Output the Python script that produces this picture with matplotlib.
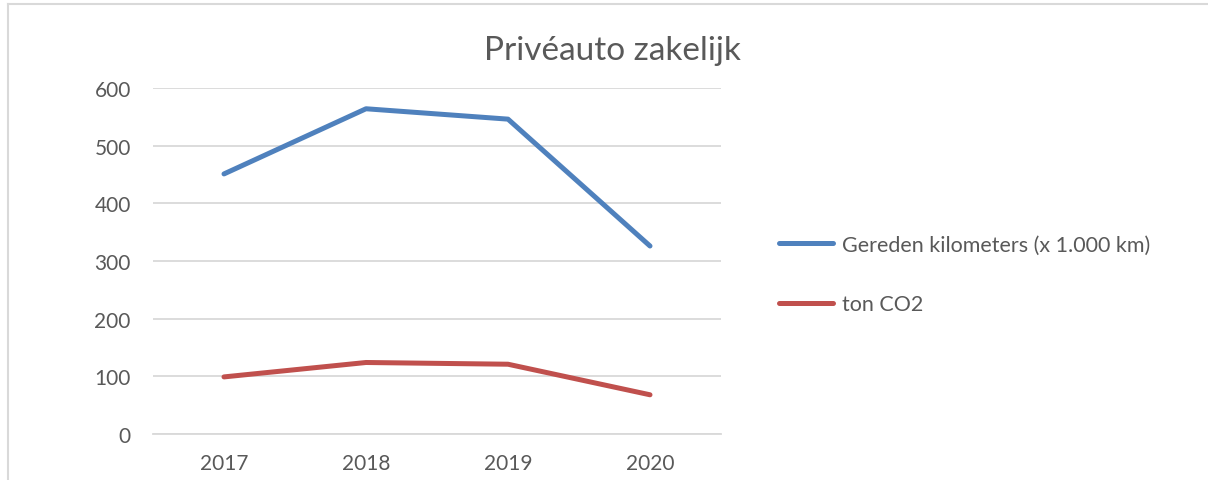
import matplotlib
matplotlib.use("Agg")
import matplotlib.pyplot as plt
from matplotlib.lines import Line2D

# data
years = ["2017", "2018", "2019", "2020"]
km_values = [451, 564, 546, 326]
co2_values = [99, 124, 121, 68]
series_labels = ["Gereden kilometers (x 1.000 km)", "ton CO2"]
y_ticks = [0, 100, 200, 300, 400, 500, 600]
title = "Privéauto zakelijk"

W, H = 1208, 481
text_color = "#595959"
grid_color = "#d9d9d9"

plt.rcParams["font.family"] = ["Lato", "DejaVu Sans"]

fig = plt.figure(figsize=(W / 100, H / 100), dpi=100)
ax = fig.add_axes([153 / W, 1 - 435 / H, (721 - 153) / W, (435 - 89) / H])

x = list(range(len(years)))
ax.plot(x, km_values, color="#4f81bd", lw=3.6, solid_capstyle="round",
        solid_joinstyle="round", label=series_labels[0])
ax.plot(x, co2_values, color="#c0504d", lw=3.6, solid_capstyle="round",
        solid_joinstyle="round", label=series_labels[1])

ax.set_xlim(-0.5, len(years) - 0.5)
ax.set_ylim(0, 600)
ax.set_yticks(y_ticks)
ax.set_xticks(x)
ax.set_xticklabels(years)
ax.yaxis.grid(True, color=grid_color, lw=1.3)
ax.set_axisbelow(True)
for side in ["left", "right", "top"]:
    ax.spines[side].set_visible(False)
ax.spines["bottom"].set_color(grid_color)
ax.spines["bottom"].set_linewidth(1.3)
ax.tick_params(axis="both", length=0, labelsize=15, colors=text_color)
ax.tick_params(axis="y", pad=16)
ax.tick_params(axis="x", pad=14)

fig.text(612 / W, 1 - 51 / H, title, ha="center", va="center",
         fontsize=24, color=text_color)

leg = fig.legend(loc="upper left", bbox_to_anchor=(760 / W, 1 - 216 / H),
                 frameon=False, fontsize=15.5, labelcolor=text_color,
                 handlelength=2.5, handletextpad=0.4, labelspacing=1.85)

# light frame on the left and top edge like the chart area border
fig.add_artist(Line2D([8 / W, 8 / W], [0, 1 - 5 / H], color="#d9d9d9", lw=1.5))
fig.add_artist(Line2D([8 / W, 1], [1 - 5 / H, 1 - 5 / H], color="#d9d9d9", lw=1.5))

fig.savefig("out.png", dpi=100)
